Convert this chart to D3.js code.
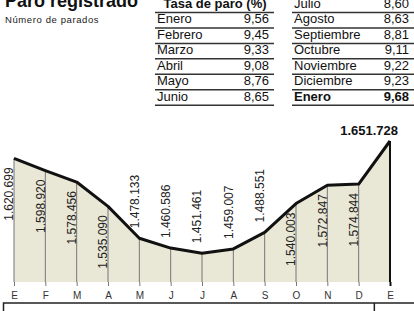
<!DOCTYPE html>
<html>
<head>
<meta charset="utf-8">
<script src="https://cdn.jsdelivr.net/npm/d3@7"></script>
<style>
  body { margin: 0; background: #fff; }
  svg { display: block; font-family: "Liberation Sans", Arial, sans-serif; }
</style>
</head>
<body>
<svg id="chart" width="414" height="311"></svg>
<script>
// datos
var meses = ["E", "F", "M", "A", "M", "J", "J", "A", "S", "O", "N", "D", "E"];
var parados = [1620699, 1598920, 1578456, 1535090, 1478133, 1460586, 1451461,
               1459007, 1488551, 1540003, 1572847, 1574844, 1651728];
var anios = ["2011", "2012"];

var tasaMeses1 = ["Enero", "Febrero", "Marzo", "Abril", "Mayo", "Junio"];
var tasas1 = [9.56, 9.45, 9.33, 9.08, 8.76, 8.65];
var tasaMeses2 = ["Julio", "Agosto", "Septiembre", "Octubre", "Noviembre", "Diciembre", "Enero"];
var tasas2 = [8.60, 8.63, 8.81, 9.11, 9.22, 9.23, 9.68];

var svg = d3.select("#chart");
var fmtNum = d3.formatLocale({ decimal: ",", thousands: ".", grouping: [3], currency: ["", "€"] });
var fmtParados = fmtNum.format(",d");
var fmtTasa = fmtNum.format(".2f");

// titulo
svg.append("text")
    .attr("x", 5).attr("y", 7)
    .attr("font-size", 18).attr("font-weight", "bold")
    .attr("fill", "#111")
    .text("Paro registrado");
svg.append("text")
    .attr("x", 5).attr("y", 23)
    .attr("font-size", 9.5)
    .attr("letter-spacing", 0.6)
    .attr("fill", "#222")
    .text("Número de parados");

// tabla de tasa de paro
var rowY = function (i) { return 12.5 + i * 15.45; };
var tabla = svg.append("g").attr("font-size", 13).attr("fill", "#111");

tabla.append("text")
    .attr("x", 215).attr("y", 7.5)
    .attr("text-anchor", "middle")
    .attr("font-weight", "bold")
    .text("Tasa de paro (%)");
tabla.append("line")
    .attr("x1", 155).attr("x2", 274)
    .attr("y1", rowY(0)).attr("y2", rowY(0))
    .attr("stroke", "#333").attr("stroke-width", 1.5);

function columna(nombres, valores, x0, x1, filaInicio, ultimaNegrita) {
    var g = tabla.append("g");
    var filas = g.selectAll("g.fila")
        .data(nombres.map(function (n, i) { return { n: n, v: valores[i], i: i }; }))
        .enter().append("g").attr("class", "fila")
        .attr("font-weight", function (d) { return (ultimaNegrita && d.i === nombres.length - 1) ? "bold" : null; });
    filas.append("text")
        .attr("x", x0 + 2)
        .attr("y", function (d) { return rowY(d.i + filaInicio) - 4.5; })
        .text(function (d) { return d.n; });
    filas.append("text")
        .attr("x", x1 - 5)
        .attr("y", function (d) { return rowY(d.i + filaInicio) - 4.5; })
        .attr("text-anchor", "end")
        .text(function (d) { return fmtTasa(d.v); });
    filas.append("line")
        .attr("x1", x0).attr("x2", x1)
        .attr("y1", function (d) { return rowY(d.i + filaInicio); })
        .attr("y2", function (d) { return rowY(d.i + filaInicio); })
        .attr("stroke", "#333").attr("stroke-width", 1.5);
}
columna(tasaMeses1, tasas1, 155, 274, 1, false);
columna(tasaMeses2, tasas2, 292, 414, 0, true);

// grafico
var base = 282;
var x = d3.scalePoint().domain(d3.range(meses.length)).range([14, 390]);
var y = d3.scaleLinear().domain([1400000, 1651728]).range([base, 141]);

var area = d3.area()
    .x(function (d, i) { return x(i); })
    .y0(base)
    .y1(function (d) { return y(d); });
var linea = d3.line()
    .x(function (d, i) { return x(i); })
    .y(function (d) { return y(d); });

svg.append("path")
    .datum(parados)
    .attr("d", area)
    .attr("fill", "#e9e7d5");

var ultimo = parados.length - 1;
svg.append("g").selectAll("line")
    .data(parados)
    .enter().append("line")
    .attr("x1", function (d, i) { return x(i); })
    .attr("x2", function (d, i) { return x(i); })
    .attr("y1", base)
    .attr("y2", function (d) { return y(d); })
    .attr("stroke", function (d, i) { return i === ultimo ? "#111" : "#777"; })
    .attr("stroke-width", function (d, i) { return i === ultimo ? 2 : 1; });

svg.append("path")
    .datum(parados)
    .attr("d", linea)
    .attr("fill", "none")
    .attr("stroke", "#111")
    .attr("stroke-width", 3)
    .attr("stroke-linejoin", "round");

// etiquetas verticales: debajo de la curva si el valor es alto, encima si es bajo
svg.append("g").selectAll("text")
    .data(parados.slice(0, ultimo))
    .enter().append("text")
    .attr("font-size", 12)
    .attr("fill", "#222")
    .attr("dy", "0.35em")
    .attr("text-anchor", function (d) { return d >= 1500000 ? "end" : "start"; })
    .attr("transform", function (d, i) {
        var ty = d >= 1500000 ? y(d) + 9 : y(d) - 10;
        return "translate(" + (x(i) - 5) + "," + ty + ") rotate(-90)";
    })
    .text(function (d) { return fmtParados(d); });

svg.append("text")
    .attr("x", x(ultimo) + 8)
    .attr("y", y(parados[ultimo]) - 6)
    .attr("text-anchor", "end")
    .attr("font-size", 13)
    .attr("font-weight", "bold")
    .attr("fill", "#111")
    .text(fmtParados(parados[ultimo]));

// eje de meses
var eje = svg.append("g")
    .attr("transform", "translate(0," + base + ")")
    .call(d3.axisBottom(x).tickSize(4).tickPadding(5.5).tickFormat(function (i) { return meses[i]; }));
eje.select(".domain").remove();
eje.selectAll(".tick line")
    .attr("stroke", function (d) { return d === ultimo ? "#111" : "#777"; })
    .attr("stroke-width", function (d) { return d === ultimo ? 2 : 1; });
eje.selectAll(".tick text")
    .attr("font-family", "'Liberation Sans', Arial, sans-serif")
    .attr("font-size", 10)
    .attr("fill", "#333");

// caja de años
var sep = (x(ultimo - 1) + x(ultimo)) / 2;
svg.append("rect")
    .attr("x", 3.5).attr("y", 303)
    .attr("width", 420).attr("height", 30)
    .attr("fill", "none")
    .attr("stroke", "#222").attr("stroke-width", 1.5);
svg.append("line")
    .attr("x1", sep).attr("x2", sep)
    .attr("y1", 303).attr("y2", 311)
    .attr("stroke", "#222").attr("stroke-width", 1.5);
svg.append("g").selectAll("text")
    .data(anios)
    .enter().append("text")
    .attr("x", function (d, i) { return i === 0 ? (3.5 + sep) / 2 : (sep + 414) / 2; })
    .attr("y", 319)
    .attr("text-anchor", "middle")
    .attr("font-size", 10)
    .attr("fill", "#aaa")
    .text(function (d) { return d; });
</script>
</body>
</html>
